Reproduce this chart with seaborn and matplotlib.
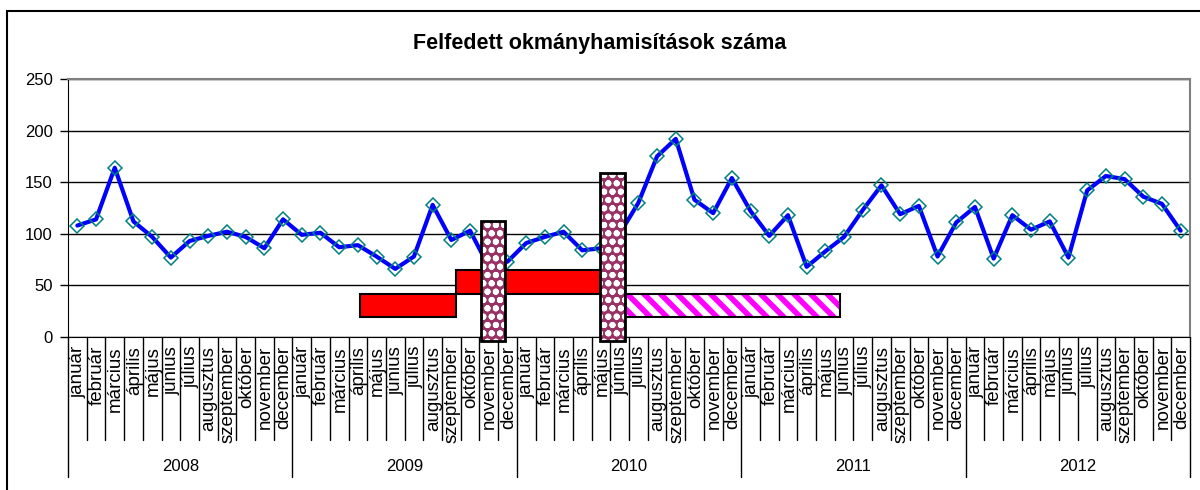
import numpy as np
import pandas as pd
import seaborn as sns
import matplotlib.pyplot as plt
from matplotlib.patches import Rectangle

sns.set_style('white')
plt.rcParams['font.family'] = ['Liberation Sans', 'DejaVu Sans']
plt.rcParams['text.color'] = 'black'
plt.rcParams['ytick.color'] = 'black'

years = ['2008', '2009', '2010', '2011', '2012']
months = ['január', 'február', 'március', 'április', 'május', 'június',
          'július', 'augusztus', 'szeptember', 'október', 'november', 'december']

# havi adatok 2008-2012
v2008 = [108, 114, 164, 112, 97, 77, 93, 98, 102, 97, 86, 114]
v2009 = [99, 101, 87, 89, 78, 66, 78, 128, 94, 103, 68, 73]
v2010 = [91, 97, 102, 84, 86, 100, 130, 175, 192, 133, 120, 154]
v2011 = [122, 98, 118, 68, 83, 97, 123, 147, 119, 127, 78, 111]
v2012 = [126, 76, 118, 104, 112, 77, 142, 156, 153, 136, 129, 103]

# kiemelő sávok: (kezdet, vég, alsó, felső) a hónap-tengelyen
red_bars = [(15.14, 20.26, 19, 42), (20.26, 27.97, 42, 65)]
check_bars = [(21.56, 22.86, -4, 112), (27.97, 29.27, -4, 158.5)]
stripe_bars = [(29.27, 40.8, 19, 42)]

values = v2008 + v2009 + v2010 + v2011 + v2012
df = pd.DataFrame({'idx': np.arange(len(values)), 'db': values})

fig = plt.figure(figsize=(12, 4.9), dpi=100)
ax = fig.add_axes([68 / 1200, 1 - 337 / 490, (1190 - 68) / 1200, (337 - 79) / 490])

ax.set_xlim(-0.5, len(values) - 0.5)
ax.set_ylim(0, 250)
ax.set_yticks(range(0, 251, 50))
ax.yaxis.grid(True, color='black', lw=1)
ax.set_axisbelow(True)

sns.lineplot(data=df, x='idx', y='db', ax=ax, color='#0000FF', lw=3,
             marker='D', markersize=7, markerfacecolor='none',
             markeredgecolor='#008080', markeredgewidth=1.1, zorder=3)

for x0, x1, y0, y1 in red_bars:
    ax.add_patch(Rectangle((x0, y0), x1 - x0, y1 - y0, facecolor='#FF0000',
                           edgecolor='black', lw=1.5, zorder=4))
with plt.rc_context({'hatch.linewidth': 4.0}):
    for x0, x1, y0, y1 in stripe_bars:
        ax.add_patch(Rectangle((x0, y0), x1 - x0, y1 - y0, facecolor='white',
                               edgecolor='#FF00FF', hatch='\\\\', lw=0, zorder=4))
        ax.add_patch(Rectangle((x0, y0), x1 - x0, y1 - y0, fill=False,
                               edgecolor='black', lw=1.5, zorder=4))
with plt.rc_context({'hatch.linewidth': 2.0}):
    for x0, x1, y0, y1 in check_bars:
        ax.add_patch(Rectangle((x0, y0), x1 - x0, y1 - y0, facecolor='#993366',
                               edgecolor='white', hatch='oo', lw=0, zorder=5,
                               clip_on=False))
        ax.add_patch(Rectangle((x0, y0), x1 - x0, y1 - y0, fill=False,
                               edgecolor='black', lw=2, zorder=5, clip_on=False))

for s in ['top', 'right']:
    ax.spines[s].set_color('#808080')
    ax.spines[s].set_linewidth(1.5)
ax.spines['left'].set_color('black')
ax.spines['bottom'].set_color('black')

ax.set_xticks([])
ax.tick_params(axis='y', length=6, width=1, color='black', labelsize=12, pad=5, left=True)
ax.set_xlabel('')
ax.set_ylabel('')

# kétszintű kategória-tengely
trans = ax.get_xaxis_transform()
for k in range(len(values) + 1):
    bottom = -(477 - 337) / 258 if k % 12 == 0 else -(440 - 337) / 258
    ax.plot([k - 0.5, k - 0.5], [0, bottom], color='black', lw=1,
            transform=trans, clip_on=False)
for i in range(len(values)):
    ax.text(i + 0.05, -(346 - 337) / 258, months[i % 12], rotation=90, ha='center',
            va='top', fontsize=13.5, transform=trans)
for j, y in enumerate(years):
    ax.text(12 * j + 5.5, -(466 - 337) / 258, y, ha='center', va='center',
            fontsize=12, transform=trans)

fig.text(0.5, 1 - 43 / 490, 'Felfedett okmányhamisítások száma', ha='center',
         va='center', fontsize=15.5, fontweight='bold')
fig.add_artist(Rectangle((7 / 1200, -0.1), 1.2, 1.1 - 11 / 490, fill=False,
                         edgecolor='black', lw=1.5, transform=fig.transFigure))

fig.savefig('out.png', dpi=100)
